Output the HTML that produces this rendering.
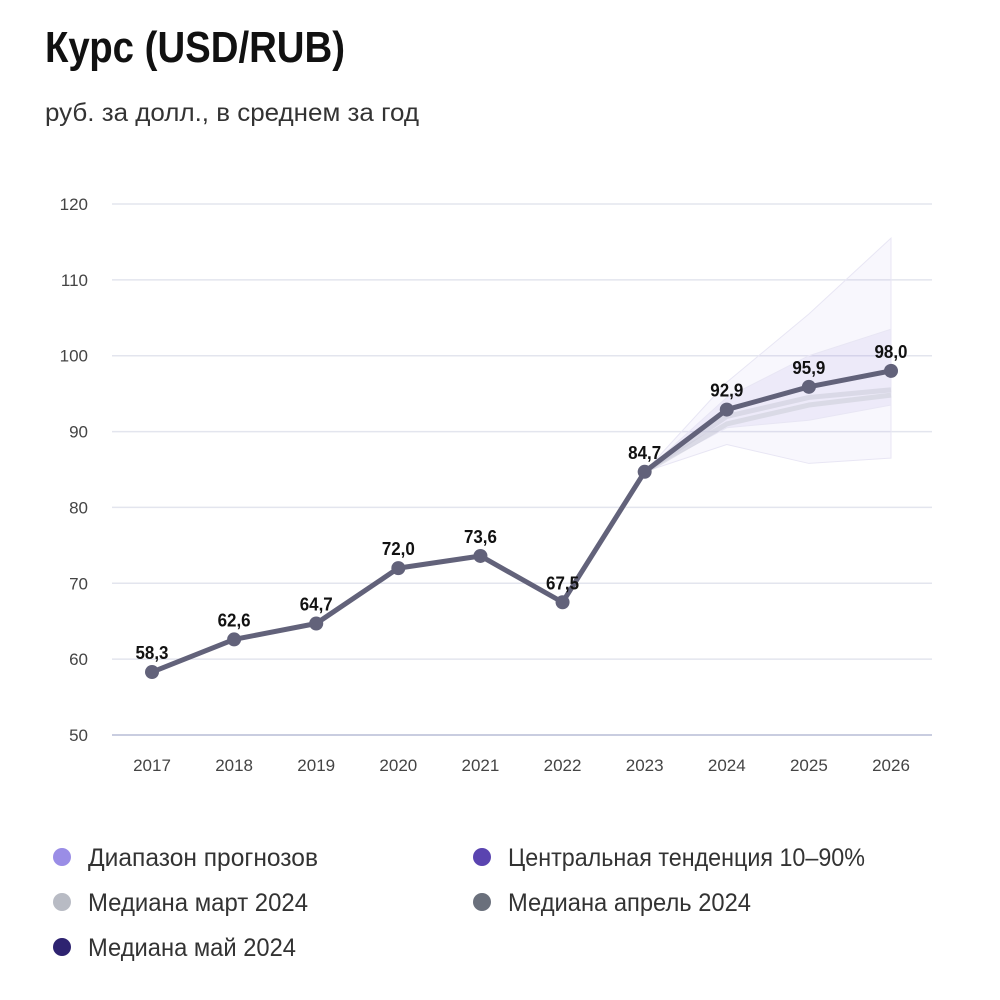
<!DOCTYPE html>
<html><head><meta charset="utf-8"><style>
body{margin:0;background:#fff;width:1000px;height:1000px;overflow:hidden}
svg{display:block}
text{font-family:"Liberation Sans","DejaVu Sans",sans-serif}
</style></head><body>
<svg id="c" width="1000" height="1000">
<text x="45" y="62" font-size="44" font-weight="bold" fill="#111" textLength="300" lengthAdjust="spacingAndGlyphs">Курс (USD/RUB)</text>
<text x="45" y="121" font-size="25" fill="#333" textLength="374" lengthAdjust="spacingAndGlyphs">руб. за долл., в среднем за год</text>
<g id="grid"></g><g id="bands"></g><g id="lines"></g><g id="legend"></g>
</svg>
<script>
const years=[2017,2018,2019,2020,2021,2022,2023,2024,2025,2026];
const actual=[58.3,62.6,64.7,72.0,73.6,67.5,84.7,92.9,95.9,98.0];
const labels=["58,3","62,6","64,7","72,0","73,6","67,5","84,7","92,9","95,9","98,0"];
const yTicks=[50,60,70,80,90,100,110,120];
const fYears=[2023,2024,2025,2026];
const rangeLow=[84.7,88.3,85.8,86.5];
const rangeHigh=[84.7,96.5,105.5,115.5];
const ctLow=[84.7,90.5,91.5,93.5];
const ctHigh=[84.7,94.5,100.0,103.5];
const medMar=[84.7,91.0,93.5,94.8];
const medApr=[84.7,92.0,94.5,95.5];
const NS="http://www.w3.org/2000/svg";
function X(y){return 152+(y-2017)*(891-152)/9}
function Y(v){return 735-(v-50)*(735-204)/70}
function el(t,a,p){const e=document.createElementNS(NS,t);for(const k in a)e.setAttribute(k,a[k]);p.appendChild(e);return e}
const g=document.getElementById('grid'),b=document.getElementById('bands'),l=document.getElementById('lines'),lg=document.getElementById('legend');
yTicks.forEach(v=>{
 const ln=el('line',{x1:112,x2:932,y1:Y(v),y2:Y(v),stroke:v===50?'#c9cde0':'#e3e5ee','stroke-width':v===50?2:1.5},g);
 
 
 const t=el('text',{x:88,y:Y(v)+6,'font-size':17,fill:'#444','text-anchor':'end'},g);t.textContent=v;
 
 
});
years.forEach(y=>{
 const t=el('text',{x:X(y),y:771,'font-size':17,fill:'#444','text-anchor':'middle'},g);t.textContent=y;
 
 
});
function band(lo,hi,fill,name){
 let d='M'+fYears.map((y,i)=>X(y)+','+Y(hi[i])).join('L');
 d+='L'+fYears.slice().reverse().map((y,j)=>{const i=fYears.length-1-j;return X(y)+','+Y(lo[i])}).join('L')+'Z';
 const p=el('path',{d:d,fill:fill,stroke:'#e8e6f4','stroke-width':1},b);
 
 
}
band(rangeLow,rangeHigh,'rgba(150,140,220,0.07)','forecast-range-band');
band(ctLow,ctHigh,'rgba(110,95,200,0.08)','central-tendency-band');
function line(arr,xs,col,w,name){
 const p=el('polyline',{points:xs.map((y,i)=>X(y)+','+Y(arr[i])).join(' '),fill:'none',stroke:col,'stroke-width':w,'stroke-linejoin':'round'},l);
 
 
}
line(medMar,fYears,'rgba(200,202,212,0.5)',5,'median-march-line');
line(medApr,fYears,'rgba(205,205,218,0.6)',5,'median-april-line');
line(actual,years,'#62627a',5,'median-may-line');
actual.forEach((v,i)=>{
 const c=el('circle',{cx:X(years[i]),cy:Y(v),r:7,fill:'#62627a'},l);
 
 
 const t=el('text',{x:X(years[i]),y:Y(v)-13,'font-size':18,'font-weight':'bold',fill:'#111','text-anchor':'middle',textLength:33,lengthAdjust:'spacingAndGlyphs'},l);t.textContent=labels[i];
 
 
});
const legNames=["Диапазон прогнозов","Центральная тенденция 10–90%","Медиана март 2024","Медиана апрель 2024","Медиана май 2024"];
const legColors=["#9a8de6","#5a44b0","#b8bbc4","#6a707c","#2e2370"];
const legPos=[[62,857],[482,857],[62,902],[482,902],[62,947]];
const legW=[230,357,220,243,208];
legNames.forEach((n,i)=>{
 const c=el('circle',{cx:legPos[i][0],cy:legPos[i][1],r:9,fill:legColors[i]},lg);
 
 
 const t=el('text',{x:legPos[i][0]+26,y:legPos[i][1]+9,'font-size':25,fill:'#333',textLength:legW[i],lengthAdjust:'spacingAndGlyphs'},lg);t.textContent=n;
 
 
});
</script>
</body></html>
